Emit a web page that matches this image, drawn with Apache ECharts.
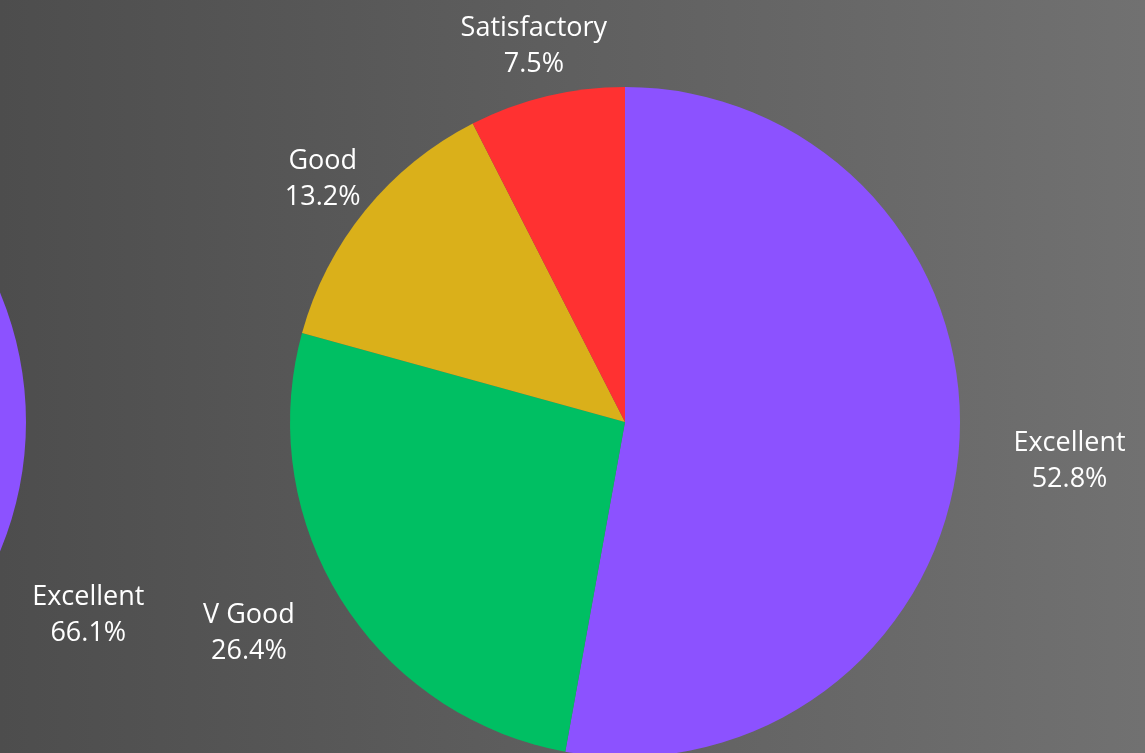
<!DOCTYPE html>
<html>
<head>
<meta charset="utf-8">
<title>Grade distribution</title>
<script src="https://cdn.jsdelivr.net/npm/echarts@6/dist/echarts.min.js"></script>
<style>
  html, body { margin: 0; padding: 0; width: 100%; height: 100%; overflow: hidden; }
  #chart { width: 1145px; height: 753px; }
</style>
</head>
<body>
<div id="chart"></div>
<script>
// Grade shares, listed clockwise from 12 o'clock
const categories = ['Excellent', 'V Good', 'Good', 'Satisfactory'];
const currentValues = [52.8, 26.4, 13.2, 7.5];
const previousValues = [66.1, 20.9, 9.4, 3.6];

const sliceColors = ['#8C52FF', '#00BF63', '#DAB01A', '#FF3131'];

// Whether a label hugs its side (box edge at the anchor) or is centred on it
const currentLabelSided = [true, true, false, false];
const previousLabelShown = [true, false, false, false];

const labelStyle = {
  color: '#ffffff',
  fontFamily: 'Open Sans',
  fontSize: 27,
  lineHeight: 36,
  formatter: '{b}\n{c}%'
};

function buildData(values, labelShown) {
  return categories.map((name, i) => ({
    name: name,
    value: values[i],
    itemStyle: { color: sliceColors[i] },
    label: { show: labelShown ? labelShown[i] : true }
  }));
}

function centredLayout(sided) {
  return function (params) {
    const w = params.labelRect.width;
    let dx = 0;
    if (sided[params.dataIndex]) {
      dx = params.align === 'left' ? w / 2 : (params.align === 'right' ? -w / 2 : 0);
    }
    return { align: 'center', dx: dx, dy: 4 };
  };
}

const pieBase = {
  type: 'pie',
  radius: 335,
  startAngle: 90,
  clockwise: true,
  avoidLabelOverlap: false,
  animation: false,
  silent: true,
  label: Object.assign({ position: 'outside', distanceToLabelLine: 0 }, labelStyle),
  labelLine: { show: false, length: 55, length2: 0 },
  emphasis: { disabled: true }
};

const chart = echarts.init(document.getElementById('chart'), null, { renderer: 'canvas' });
chart.setOption({
  backgroundColor: new echarts.graphic.LinearGradient(0, 0, 1, 0, [
    { offset: 0, color: '#4d4d4d' },
    { offset: 1, color: '#717171' }
  ]),
  series: [
    Object.assign({}, pieBase, {
      name: 'previous',
      center: [-309, 422],
      data: buildData(previousValues, previousLabelShown),
      labelLayout: centredLayout([true, true, true, true])
    }),
    Object.assign({}, pieBase, {
      name: 'current',
      center: [625, 422],
      data: buildData(currentValues),
      labelLayout: centredLayout(currentLabelSided)
    })
  ]
});
</script>
</body>
</html>
